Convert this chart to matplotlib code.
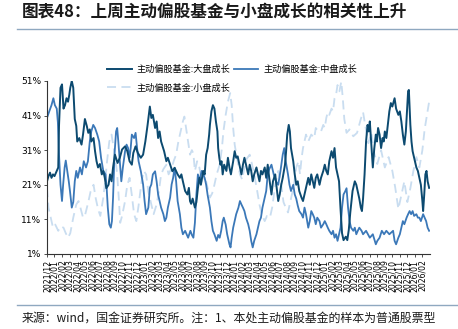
import matplotlib
matplotlib.use("Agg")
from matplotlib import pyplot as plt
from matplotlib.lines import Line2D
import numpy as np
import pandas as pd

plt.rcParams['font.family'] = ['Noto Sans CJK SC', 'DejaVu Sans']

# x positions are months counted from 2021/12
large_m = [0, 0.2, 0.4, 0.6, 0.8, 1.0, 1.3, 1.5, 1.6, 1.8, 2.0, 2.2, 2.4, 2.6, 2.8, 2.97, 3.1, 3.3, 3.5, 3.7,
           3.9, 4.03, 4.3, 4.6, 4.8, 5.05, 5.3, 5.5, 5.7, 5.9, 6.2, 6.4, 6.6, 6.8, 7.05, 7.3, 7.5, 7.7, 7.9, 8.2,
           8.4, 8.6, 8.8, 9.05, 9.4, 9.7, 10.0, 10.4, 10.7, 11.0, 11.3, 11.5, 11.8, 12.1, 12.5, 12.8, 13.1, 13.4,
           13.7, 13.9, 14.1, 14.4, 14.6, 14.8, 15.0, 15.2, 15.6, 15.9, 16.1, 16.4, 16.7, 17.0, 17.4, 17.7, 17.9,
           18.1, 18.4, 18.7, 18.9, 19.05, 19.2, 19.4, 19.7, 19.9, 20.1, 20.3, 20.5, 20.8, 21.0, 21.2, 21.4, 21.6,
           21.7, 21.9, 22.1, 22.3, 22.5, 22.7, 22.8, 22.95, 23.1, 23.25, 23.4, 23.6, 23.9, 24.1, 24.3, 24.5, 24.8,
           25.0, 25.2, 25.4, 25.7, 25.9, 26.1, 26.3, 26.6, 26.8, 27.0, 27.2, 27.4, 27.6, 27.9, 28.1, 28.3, 28.5,
           28.7, 29.0, 29.2, 29.4, 29.6, 29.9, 30.1, 30.4, 30.6, 30.8, 31.0, 31.2, 31.4, 31.7, 31.85, 32.0, 32.2,
           32.35, 32.5, 32.8, 33.0, 33.2, 33.4, 33.6, 33.9, 34.1, 34.3, 34.5, 34.8, 35.0, 35.2, 35.4, 35.6, 35.8,
           36.0, 36.3, 36.5, 36.8, 37.0, 37.2, 37.4, 37.6, 37.9, 38.1, 38.3, 38.5, 38.7, 38.9, 39.1, 39.3, 39.5,
           39.8, 40.0, 40.2, 40.4, 40.7, 41.0, 41.2, 41.4, 41.6, 41.8, 41.95, 42.1, 42.3, 42.5, 42.7, 42.85, 43.0,
           43.2, 43.4, 43.6, 43.8, 43.95, 44.1, 44.3, 44.5, 44.7, 44.85, 45.0, 45.2, 45.4, 45.6, 45.8, 46.0, 46.3,
           46.5, 46.8, 47.0, 47.2, 47.4, 47.6, 47.8, 48.1, 48.2, 48.4, 48.55, 48.7, 48.9, 49.2, 49.4, 49.6, 49.8,
           50.0, 50.1, 50.25, 50.4, 50.55, 50.7, 50.9]
large_v = [22, 23.5, 24.5, 23, 24, 23.5, 25, 26, 38, 49, 50, 43, 44, 46, 45, 47, 49, 51, 49, 40,
           38, 33.5, 34.5, 32.6, 35.5, 40, 38, 36, 37, 33.5, 34.5, 30.7, 27.8, 26, 27, 24, 25, 23, 20, 21,
           24, 22, 26, 29.7, 27.3, 28.8, 31.2, 32.1, 30.7, 27.8, 26.8, 30.2, 32.1, 30.2, 28.8, 29.7, 33.5, 38.3,
           43.6, 40.3, 41.2, 37.4, 39.3, 34.5, 36.4, 33.5, 30.7, 27.8, 28.8, 26.8, 24.9, 25.9, 24, 23, 24,
           22, 19.2, 18.2, 20.1, 16.3, 15.5, 17, 14.4, 16, 20, 23, 21, 25, 24, 29.7, 31.6, 35.5,
           38.3, 42.2, 44, 43, 39.3, 36.4, 31.6, 28.8, 26.8, 27.8, 24, 26.8, 25, 28.8, 26, 24, 27.8,
           30.7, 28.8, 29.2, 26, 24, 26.8, 28.8, 26, 24, 26.8, 25, 22, 24, 26, 24, 22, 25,
           24, 26, 23, 26.8, 23, 18.2, 22, 24, 20, 16.3, 18.2, 21, 23, 26.8, 30.7, 35.5, 38.3,
           36.4, 31.6, 27.8, 24, 21, 22, 19.2, 17.3, 16.3, 18.2, 20.1, 23, 21, 24, 22, 20.1, 23,
           24, 21, 23, 25, 26.8, 25, 24, 27.8, 30.7, 28.8, 31.6, 26, 24, 22, 14, 7, 5,
           6, 5, 8, 13, 19.2, 22, 21, 19, 17, 14.4, 13.4, 17, 24, 33.5, 38.3, 36.4, 39.3,
           32.6, 26, 31.6, 35.5, 33.5, 37.4, 35.5, 31.6, 34.5, 33.5, 36.4, 34.5, 38.3, 42.2, 44.6, 43.6, 46,
           43, 41.2, 42.2, 39.3, 35.5, 32.6, 36.4, 48, 48.4, 38.3, 33.5, 30.7, 28.8, 26, 25, 23, 21,
           16.3, 13.4, 18.2, 24, 25, 22, 20.1]

mid_m = [0, 0.3, 0.6, 0.85, 1.05, 1.3, 1.45, 1.6, 1.8, 2.0, 2.15, 2.35, 2.5, 2.7, 2.9, 3.06, 3.3, 3.5, 3.7, 3.9,
         4.1, 4.4, 4.65, 4.9, 5.2, 5.45, 5.7, 5.9, 6.16, 6.4, 6.7, 6.95, 7.2, 7.5, 7.8, 7.95, 8.1, 8.3, 8.5, 8.65,
         8.8, 9.0, 9.2, 9.35, 9.5, 9.7, 9.9, 10.1, 10.4, 10.6, 10.8, 11.0, 11.15, 11.3, 11.6, 11.8, 12.0, 12.2,
         12.5, 12.8, 13.0, 13.2, 13.5, 13.7, 13.9, 14.1, 14.4, 14.6, 14.8, 15.0, 15.2, 15.5, 15.7, 15.9, 16.1,
         16.4, 16.6, 16.8, 17.0, 17.2, 17.4, 17.7, 17.9, 18.1, 18.4, 18.8, 19.1, 19.3, 19.5, 19.7, 19.9, 20.1,
         20.3, 20.6, 20.8, 21.0, 21.2, 21.4, 21.7, 21.9, 22.1, 22.3, 22.6, 22.8, 23.0, 23.2, 23.4, 23.55, 23.8,
         24.0, 24.3, 24.45, 24.6, 24.8, 25.0, 25.2, 25.5, 25.7, 25.9, 26.1, 26.3, 26.5, 26.8, 27.0, 27.2, 27.4,
         27.6, 27.9, 28.1, 28.3, 28.5, 28.7, 29.0, 29.2, 29.4, 29.6, 29.9, 30.2, 30.5, 30.8, 31.1, 31.4, 31.6,
         31.8, 32.1, 32.3, 32.5, 32.8, 33.0, 33.2, 33.4, 33.6, 33.9, 34.1, 34.3, 34.5, 34.8, 35.0, 35.2, 35.4,
         35.6, 35.8, 36.0, 36.3, 36.5, 36.8, 37.0, 37.2, 37.4, 37.6, 37.9, 38.1, 38.3, 38.5, 38.7, 38.9, 39.1,
         39.3, 39.5, 39.7, 39.9, 40.1, 40.3, 40.5, 40.8, 41.0, 41.2, 41.4, 41.6, 41.9, 42.1, 42.5, 43.0, 43.4,
         43.8, 44.0, 44.3, 44.6, 44.9, 45.2, 45.6, 46.1, 46.3, 46.5, 46.8, 47.0, 47.2, 47.4, 47.6, 47.9, 48.1,
         48.3, 48.5, 48.7, 48.9, 49.2, 49.4, 49.6, 49.8, 50.1, 50.3, 50.5, 50.7, 50.9]
mid_v = [40.3, 42.2, 44, 46, 44, 43, 39, 29.7, 21, 16.3, 21, 26, 28, 25, 22, 19.2, 14.4, 16, 22, 25,
         23, 26, 24, 27.8, 26, 27.8, 33.5, 36.4, 38.3, 37.4, 35.5, 33.5, 28.8, 25, 24, 20, 14.4, 9.6, 8.6, 10.5,
         17.3, 30, 36.4, 37.4, 33.5, 27.8, 22, 25.9, 30.7, 32.6, 31.6, 28.8, 31.6, 35.5, 34.5, 36, 31.6, 27.8,
         24.9, 21.1, 16.3, 12.5, 14.4, 20.1, 21.1, 24, 24.9, 22, 18.2, 16.3, 14.4, 12.5, 10.5, 11.5, 14.4,
         17.3, 21.1, 23, 25.9, 22, 16.3, 12.5, 8.6, 6.7, 7.7, 5.7, 7.7, 6.5, 5.7, 10, 18.2, 24,
         22, 25, 24, 23, 21, 18, 14.4, 10.5, 7.7, 6.7, 4.8, 6.5, 5.7, 7.7, 10.5, 11.5, 9.5,
         6.7, 3.8, 2.9, 5.7, 8.6, 10.5, 12.5, 14.4, 16.3, 15.3, 14.4, 13.4, 11.5, 9.6, 7.7, 4.8, 2.9,
         4.8, 6.7, 8.6, 10.5, 11.5, 14.4, 17.3, 19.2, 24, 25.5, 26.8, 24, 22, 21, 25, 29.7, 31.6,
         27.8, 24, 21, 19.2, 21, 18.2, 17, 15, 13.4, 12.5, 11.5, 14.4, 12.5, 8.6, 10.5, 13.4, 12.5,
         11.5, 9.6, 11.5, 10.5, 8.6, 9.6, 10.5, 9.6, 8.6, 7.7, 6.7, 7.7, 5.7, 6.7, 4.8, 6.7, 8.6,
         14.4, 18.2, 19, 20, 14.4, 10.5, 8.6, 7.7, 8.6, 6.7, 7.7, 8.6, 7.7, 6.7, 7.7, 5.7, 6.7,
         3.8, 4.8, 5.7, 7.7, 6.7, 7.7, 6.7, 7.7, 4.8, 3.8, 5.7, 6.7, 8.6, 10.5, 9.6, 11.5, 12.5,
         13.4, 12.5, 13.4, 12, 12.5, 11.5, 11.5, 10.5, 12.5, 11.5, 10.5, 8.6, 7.7]

small_m = [0, 0.2, 0.5, 0.8, 1.1, 1.5, 1.8, 2.2, 2.5, 2.8, 3.1, 3.5, 3.9, 4.2, 4.5, 4.8, 5.1, 5.5, 5.8, 6.2,
           6.5, 6.8, 7.1, 7.5, 7.75, 8.0, 8.3, 8.6, 8.85, 9.1, 9.35, 9.6, 9.75, 10.0, 10.4, 10.7, 11.0, 11.3,
           11.6, 11.9, 12.2, 12.6, 12.9, 13.2, 13.5, 13.9, 14.2, 14.6, 14.9, 15.2, 15.5, 15.9, 16.2, 16.6, 16.9,
           17.2, 17.5, 17.8, 18.1, 18.3, 18.55, 18.8, 19.05, 19.3, 19.5, 19.7, 20.0, 20.3, 20.6, 21.0, 21.3,
           21.7, 22.0, 22.3, 22.6, 23.0, 23.3, 23.5, 23.8, 24.1, 24.4, 24.6, 24.8, 25.0, 25.3, 25.7, 26.0, 26.3,
           26.6, 27.0, 27.3, 27.6, 28.0, 28.3, 28.6, 29.0, 29.3, 29.7, 30.0, 30.4, 30.8, 31.2, 31.5, 31.8, 32.1,
           32.5, 32.9, 33.2, 33.5, 33.7, 33.9, 34.1, 34.3, 34.5, 34.8, 35.2, 35.6, 35.8, 36.1, 36.5, 36.8, 37.0,
           37.2, 37.4, 37.6, 37.9, 38.1, 38.3, 38.5, 38.7, 38.95, 39.2, 39.4, 39.6, 39.9, 40.3, 40.8, 41.3, 41.8,
           42.1, 42.4, 42.8, 43.2, 43.6, 44.0, 44.5, 45.0, 45.5, 46.0, 46.4, 46.8, 47.2, 47.6, 48.0, 48.4, 48.8,
           49.2, 49.6, 50.0, 50.3, 50.6, 50.9]
small_v = [20, 14.4, 11.5, 8.6, 9.5, 7.7, 9, 8.6, 7, 5.7, 7, 11.5, 15.3, 16.3, 14, 11.5, 12.5, 16, 19, 21,
           17, 14, 12, 17.3, 22, 27.8, 33.5, 35.5, 32, 28.8, 24, 16, 10, 12, 16.3, 21, 23, 18,
           12.5, 10.5, 15, 22, 25, 24, 19, 15.3, 12.5, 15.3, 19, 24, 25.5, 26.8, 24, 25.9, 28,
           29.7, 33.5, 36.4, 39.3, 40.7, 37, 33.5, 29.7, 31, 30, 25, 27.8, 26, 22, 24, 21,
           17.3, 18.5, 21, 24, 26.8, 31.6, 36.4, 41.2, 45, 47.5, 44, 37.4, 32.6, 28.8, 24, 22.5, 26,
           28.5, 29.7, 27, 24, 19.2, 15.3, 12.5, 10.5, 12, 11.5, 14.5, 21, 25, 21, 16, 14.4, 13,
           17, 21, 26, 27.8, 24, 28.5, 31.6, 33.5, 35.5, 33.5, 35.5, 34.5, 37.4, 36.5, 36.4, 38.3, 37.4,
           40.3, 42, 41.2, 43, 42.2, 46, 47, 49.8, 48, 50.8, 46, 40, 36, 37, 35, 36, 40,
           42, 38, 33, 36, 30, 27, 31, 26, 29, 25, 20, 14, 18, 22, 16, 20, 25,
           29, 26, 31, 37, 41, 45]

month_labels = list(pd.period_range('2021-12', '2026-02', freq='M').strftime('%Y/%m'))
y_ticks = [1, 11, 21, 31, 41, 51]

fig = plt.figure(figsize=(4.58, 3.29), dpi=100)
ax = fig.add_axes([0.1026, 0.228, 0.836, 0.526])

ax.plot(small_m, small_v, color='#c9ddf0', lw=1.3, ls=(0, (5, 3)), label='主动偏股基金:小盘成长')
ax.plot(mid_m, mid_v, color='#3b78b8', lw=1.3, label='主动偏股基金:中盘成长')
ax.plot(large_m, large_v, color='#0c4a70', lw=1.4, label='主动偏股基金:大盘成长')

ax.set_xlim(0, 51)
ax.set_ylim(1, 51)
ax.set_yticks(y_ticks)
ax.set_yticklabels(['%d%%' % t for t in y_ticks], fontsize=6.5, family='DejaVu Sans')
ax.set_xticks(np.arange(len(month_labels)))
ax.set_xticklabels(month_labels, rotation=90, fontsize=5.6, family='DejaVu Sans')
ax.tick_params(axis='both', length=2.5, width=0.6, color='#333333', pad=1.5)
for side in ['top', 'right']:
    ax.spines[side].set_visible(False)
for side in ['left', 'bottom']:
    ax.spines[side].set_color('#333333')
    ax.spines[side].set_linewidth(0.8)

# legend: two columns, 小盘 sits under 大盘
handles, labels = ax.get_legend_handles_labels()
order = [2, 0, 1]
ax.legend([handles[i] for i in order], [labels[i] for i in order], ncol=2, frameon=False,
          fontsize=6.6, loc='lower left', bbox_to_anchor=(0.135, 0.885), handlelength=2.7,
          columnspacing=0.35, handletextpad=0.55, labelspacing=1.0)

fig.text(0.048, 0.962, '图表48：上周主动偏股基金与小盘成长的相关性上升', fontsize=12,
         fontweight='bold', color='#1a1a1a', va='center', ha='left')
fig.add_artist(Line2D([17 / 458, 1.0], [1 - 29 / 329] * 2, transform=fig.transFigure,
                      color='#8fa8c0', lw=1.0))
fig.add_artist(Line2D([17 / 458, 1.0], [1 - 305 / 329] * 2, transform=fig.transFigure,
                      color='#8fa8c0', lw=1.0))
fig.text(0.048, 1 - 318 / 329, '来源：wind，国金证券研究所。注：1、本处主动偏股基金的样本为普通股票型',
         fontsize=8.6, color='#1a1a1a', va='center', ha='left')

fig.savefig('out.png', dpi=100)
